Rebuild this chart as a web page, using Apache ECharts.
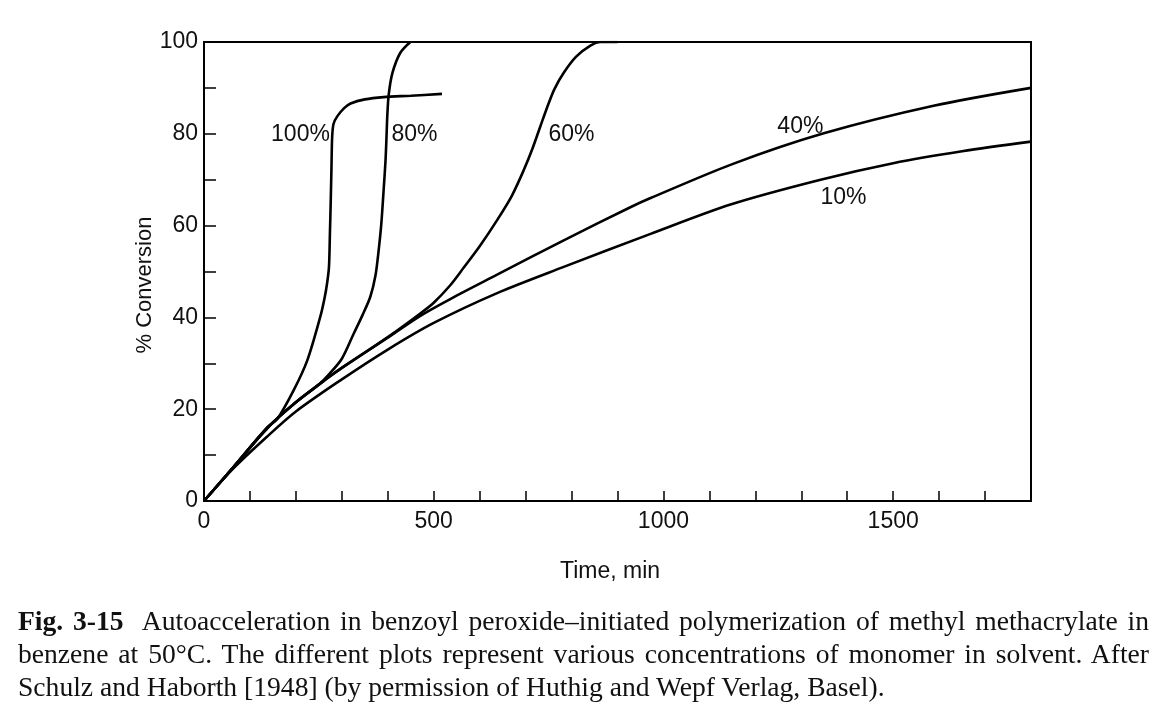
<!DOCTYPE html>
<html>
<head>
<meta charset="utf-8">
<script src="https://cdn.jsdelivr.net/npm/echarts@6/dist/echarts.min.js"></script>
<style>
  html, body { margin: 0; padding: 0; background: #fff; }
  #chart { position: absolute; left: 0; top: 0; width: 1170px; height: 716px; }
  #caption { position: absolute; left: 18px; top: 604px; width: 1131px;
    font-family: "Liberation Serif", "DejaVu Serif", serif; font-size: 27.6px; line-height: 33px; color: #111; }
  #caption .ln { text-align: justify; text-align-last: justify; white-space: nowrap; }
  #caption .last { text-align: left; text-align-last: left; white-space: nowrap; }
</style>
</head>
<body>
<div id="chart"></div>
<div id="caption">
  <div class="ln"><b>Fig. 3-15</b>&nbsp; Autoacceleration in benzoyl peroxide–initiated polymerization of methyl methacrylate in</div>
  <div class="ln">benzene at 50°C. The different plots represent various concentrations of monomer in solvent. After</div>
  <div class="last">Schulz and Haborth [1948] (by permission of Huthig and Wepf Verlag, Basel).</div>
</div>
<script>
// ---- Data (time in min, % conversion) ----
const seriesNames = ['100%', '80%', '60%', '40%', '10%'];

const t100 = [0, 65, 137, 159, 195, 225, 253, 262, 268, 272, 274, 276, 277.5, 279, 282, 290, 305, 319, 350, 391, 450, 518];
const c100 = [0, 7.5, 16.0, 17.8, 24.1, 30.7, 40.1, 44.0, 47.5, 51.0, 58.0, 66.0, 73.0, 79.4, 82.2, 83.8, 85.6, 86.6, 87.5, 88.0, 88.3, 88.7];

const t80 = [0, 65, 137, 200, 250, 272, 300, 326, 345, 362, 373, 380, 386, 391, 395, 397, 399, 402, 410, 427, 449];
const c80 = [0, 7.5, 15.8, 21.5, 25.4, 27.6, 31.0, 36.5, 40.5, 44.5, 49.0, 54.5, 60.5, 67.8, 74.0, 78.7, 84.0, 88.5, 93.2, 97.6, 100];

const t60 = [0, 65, 137, 200, 272, 300, 400, 470, 500, 536, 565, 600, 638, 670, 696, 715, 732, 750, 763, 783, 810, 841, 863, 900];
const c60 = [0, 7.5, 15.8, 21.5, 27.0, 29.0, 35.7, 40.8, 43.2, 47.0, 50.8, 55.5, 61.2, 66.5, 72.1, 76.8, 81.6, 86.6, 89.8, 93.3, 96.8, 99.2, 100, 100];

const t40 = [0, 65, 137, 200, 272, 300, 400, 470, 536, 638, 783, 928, 972, 1150, 1349, 1588, 1800];
const c40 = [0, 7.5, 15.8, 21.5, 27.0, 29.0, 35.6, 40.3, 44.0, 49.3, 56.8, 64.0, 66.0, 73.4, 80.1, 86.1, 90.0];

const t10 = [0, 65, 137, 200, 300, 400, 500, 638, 783, 972, 1146, 1342, 1500, 1650, 1800];
const c10 = [0, 7.2, 14.0, 19.5, 26.5, 33.0, 38.8, 45.3, 51.0, 58.2, 64.6, 70.0, 73.6, 76.2, 78.3];

const xTickLabels = [0, 500, 1000, 1500];
const yTickLabels = [0, 20, 40, 60, 80, 100];
const xTitle = 'Time, min';
const yTitle = '% Conversion';

// ---- Build ----
const zip = (t, c) => t.map((v, i) => [v, c[i]]);
const curves = [zip(t100, c100), zip(t80, c80), zip(t60, c60), zip(t40, c40), zip(t10, c10)];
// label anchors (layout only)
const labelAnchors = [[210, 79.8], [458, 79.8], [800, 79.8], [1298, 81.5], [1392, 66.0]];

const FONT = '"Liberation Sans", "DejaVu Sans", sans-serif';
const chart = echarts.init(document.getElementById('chart'), null, { renderer: 'canvas' });

const option = {
  animation: false,
  backgroundColor: '#fff',
  grid: { left: 204, right: 139, top: 42, bottom: 215, show: true, borderColor: '#000', borderWidth: 2, backgroundColor: 'transparent' },
  graphic: [
    { type: 'text', x: 610, y: 572, style: { text: xTitle, font: '23px ' + FONT, fill: '#111', align: 'center', verticalAlign: 'middle' } },
    { type: 'text', x: 145, y: 285, rotation: Math.PI / 2, style: { text: yTitle, font: '22px ' + FONT, fill: '#111', align: 'center', verticalAlign: 'middle' } }
  ],
  xAxis: {
    type: 'value', min: 0, max: 1800, interval: 100,
    axisLine: { show: true, lineStyle: { color: '#000', width: 2 } },
    axisTick: { show: true, inside: true, length: 10, lineStyle: { color: '#000', width: 1.5 } },
    splitLine: { show: false },
    axisLabel: {
      fontFamily: FONT, fontSize: 23, color: '#111', margin: 9, showMaxLabel: false,
      formatter: v => (xTickLabels.indexOf(v) >= 0 ? String(v) : '')
    }
  },
  yAxis: {
    type: 'value', min: 0, max: 100, interval: 10,
    axisLine: { show: true, lineStyle: { color: '#000', width: 2 } },
    axisTick: { show: true, inside: true, length: 12, lineStyle: { color: '#000', width: 1.5 } },
    splitLine: { show: false },
    axisLabel: {
      fontFamily: FONT, fontSize: 23, color: '#111', margin: 6,
      formatter: v => (yTickLabels.indexOf(v) >= 0 ? String(v) : '')
    }
  },
  series: curves.map((d, i) => ({
    type: 'line', name: seriesNames[i], data: d,
    showSymbol: false, symbol: 'none',
    smooth: 0.3,
    lineStyle: { color: '#000', width: 2.6 },
    z: 3,
    markPoint: {
      symbol: 'circle', symbolSize: 0, silent: true,
      data: [{ coord: labelAnchors[i], value: seriesNames[i] }],
      label: { show: true, formatter: seriesNames[i], fontFamily: FONT, fontSize: 23, color: '#111', position: 'inside' }
    }
  }))
};
chart.setOption(option);
</script>
</body>
</html>
